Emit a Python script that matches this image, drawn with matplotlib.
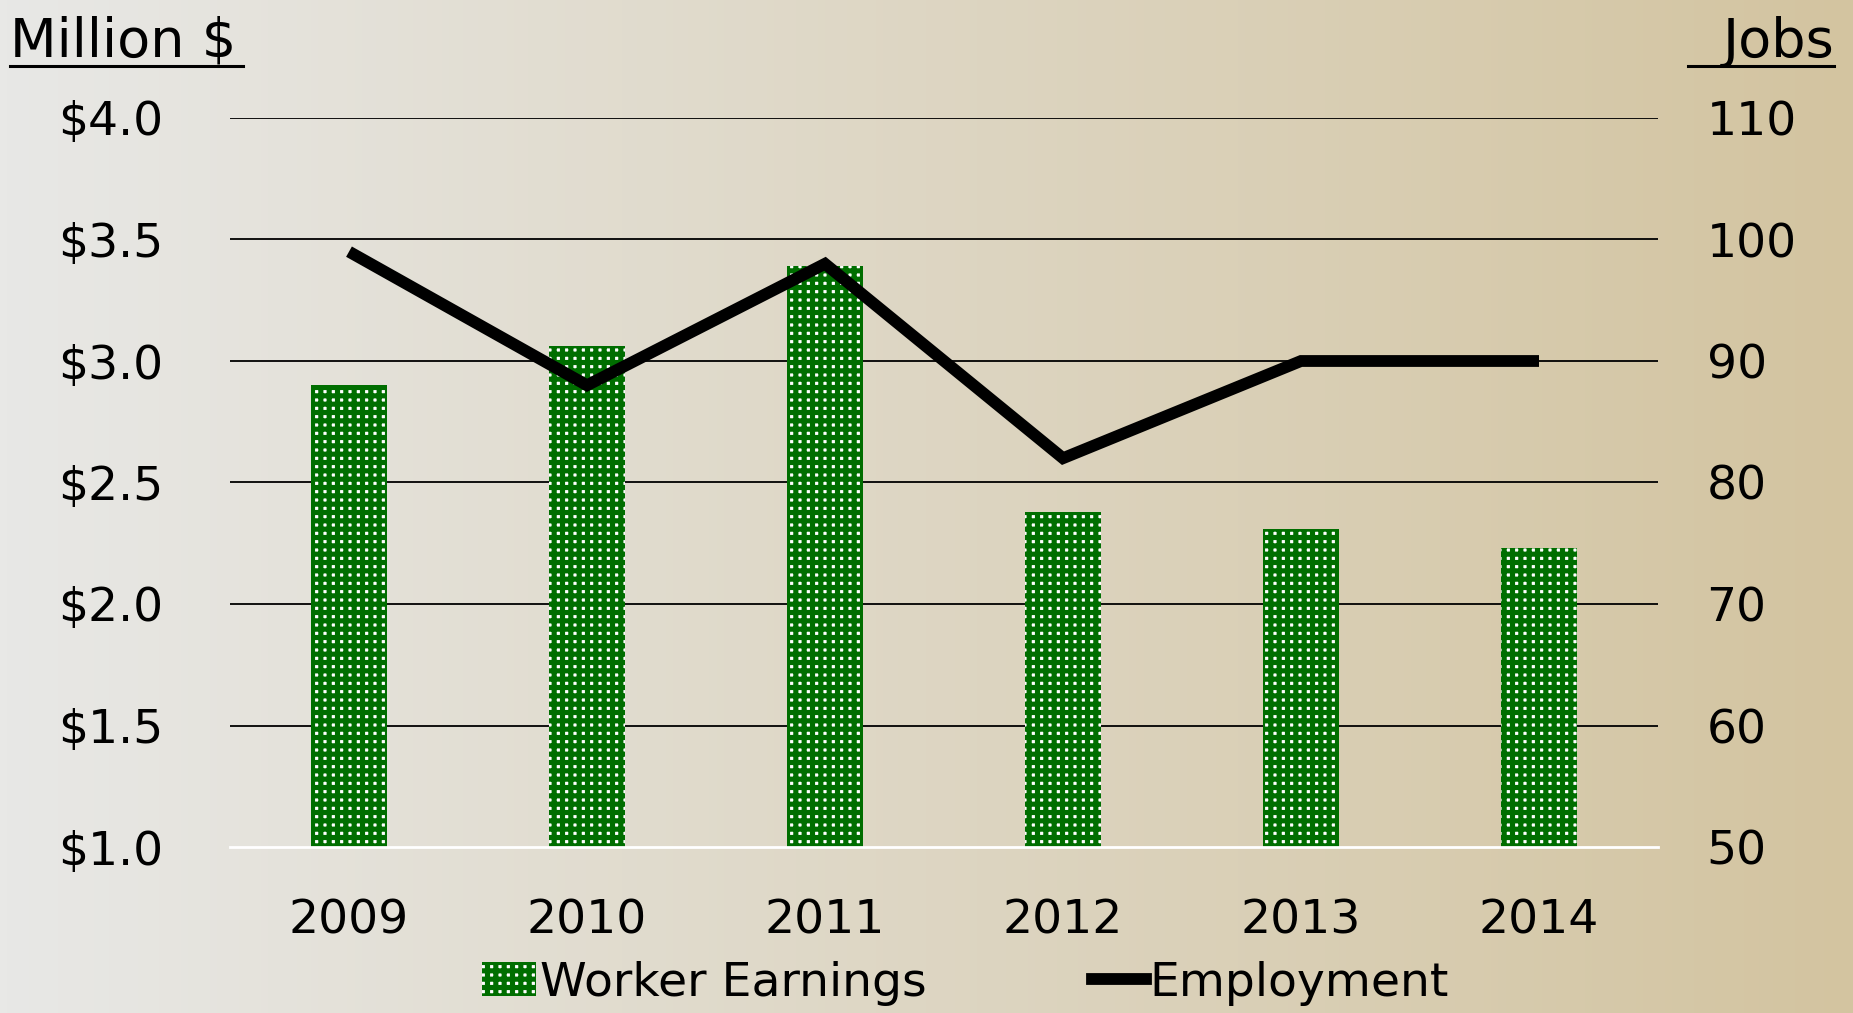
import numpy as np
import matplotlib
matplotlib.use("Agg")
import matplotlib.pyplot as plt
from matplotlib.lines import Line2D
from matplotlib.patches import Patch

years = ["2009", "2010", "2011", "2012", "2013", "2014"]
earnings = [2.90, 3.06, 3.39, 2.38, 2.31, 2.23]   # million $
employment = [99, 88, 98, 82, 90, 90]             # jobs
left_ticks = [1.0, 1.5, 2.0, 2.5, 3.0, 3.5, 4.0]
right_ticks = [50, 60, 70, 80, 90, 100, 110]

plt.rcParams["font.family"] = ["DejaVu Sans"]
plt.rcParams["hatch.linewidth"] = 3.7

W, H = 1853, 1013
fig = plt.figure(figsize=(W / 100, H / 100), dpi=100)

# horizontal grey-to-tan gradient background
bg = fig.add_axes([0, 0, 1, 1], zorder=-10)
c0 = np.array([232, 232, 230]) / 255
c1 = np.array([211, 196, 160]) / 255
t = np.linspace(0, 1, 256)
grad = (c0[None, :] * (1 - t[:, None]) + c1[None, :] * t[:, None])[None, :, :]
bg.imshow(grad, aspect="auto", extent=[0, 1, 0, 1])
bg.set_axis_off()

left, right = 230 / W, 1658 / W
bottom, top = 1 - 847 / H, 1 - 118 / H
ax = fig.add_axes([left, bottom, right - left, top - bottom])
ax.patch.set_alpha(0)
green = "#006e00"
x = np.arange(len(years))
ax.bar(x, earnings, width=0.32, bottom=0, color="white", edgecolor=green,
       hatch="++", linewidth=0, zorder=2)
ax.set_ylim(1.0, 4.0)
ax.set_xlim(-0.5, len(years) - 0.5)
ax.set_yticks(left_ticks)
ax.set_yticklabels([f"${v:.1f}" for v in left_ticks])
ax.set_xticks(x)
ax.set_xticklabels(years)
for s in ["top", "left", "right"]:
    ax.spines[s].set_visible(False)
ax.spines["bottom"].set_color("white")
ax.spines["bottom"].set_linewidth(2)
ax.spines["bottom"].set_zorder(3)
for v in left_ticks[1:]:
    ax.axhline(v, color="black", linewidth=1.3, zorder=1)
ax.tick_params(axis="both", length=0, labelsize=34)
ax.tick_params(axis="y", pad=48)
ax.tick_params(axis="x", pad=37)

ax2 = ax.twinx()
ax2.plot(x, employment, color="black", linewidth=8.5, solid_joinstyle="miter",
         solid_capstyle="butt", zorder=4)
ax2.set_ylim(50, 110)
ax2.set_yticks(right_ticks)
ax2.tick_params(axis="y", length=0, labelsize=34, pad=35)
for s in ax2.spines.values():
    s.set_visible(False)

fig.text(10 / W, 1 - 57 / H, "Million $", fontsize=39, va="baseline", ha="left")
fig.add_artist(Line2D([10 / W, 243 / W], [1 - 66 / H] * 2, color="black", linewidth=2.2))
fig.text(1834 / W, 1 - 57 / H, "Jobs", fontsize=39, va="baseline", ha="right")
fig.add_artist(Line2D([1688 / W, 1834 / W], [1 - 66 / H] * 2, color="black", linewidth=2.2))

handles = [Patch(facecolor="white", edgecolor=green, hatch="++", linewidth=0),
           Line2D([0], [0], color="black", linewidth=8.5)]
fig.legend(handles, ["Worker Earnings", "Employment"], loc="center",
           bbox_to_anchor=(0.521, 1 - 983 / H), ncol=2, frameon=False,
           fontsize=34, handlelength=1.15, handletextpad=0.08, columnspacing=3.5,
           borderaxespad=0, borderpad=0)

fig.savefig("out.png", dpi=100)
